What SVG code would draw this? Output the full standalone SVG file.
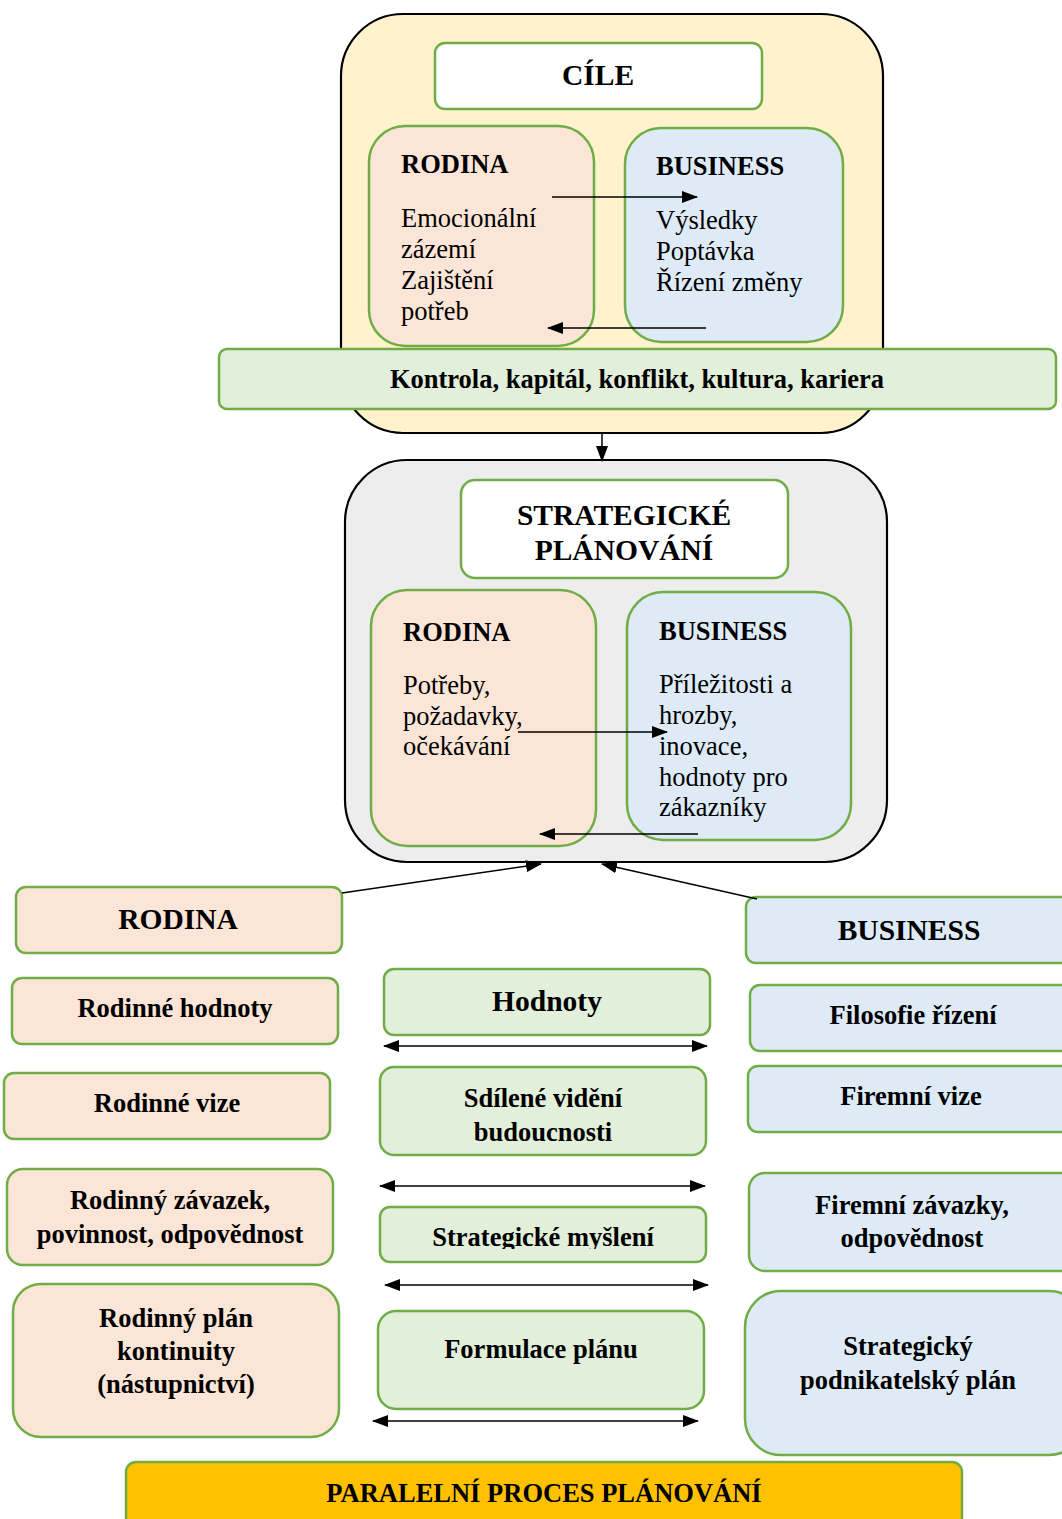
<svg xmlns="http://www.w3.org/2000/svg" width="1062" height="1519" viewBox="0 0 1062 1519">
<style>
.cont{stroke:#000;stroke-width:2.2}
.box{stroke:#70AD47;stroke-width:2.5}
.white{fill:#FFFFFF}
.peach{fill:#FBE5D6}
.blue{fill:#DEEBF7}
.green{fill:#E2EFDA}
.t{font-family:"Liberation Serif","Times New Roman",serif;fill:#000}
.b{font-weight:bold}
.mid{text-anchor:middle}
.body{font-size:26.5px}
.sm{font-size:26.5px}
.hd{font-size:26.5px}
.big{font-size:29.5px}
.ln{stroke:#000;stroke-width:1.5;fill:none}
</style>
<defs>
<marker id="ah" markerWidth="16" markerHeight="12" refX="15" refY="6" orient="auto-start-reverse" markerUnits="userSpaceOnUse">
<path d="M0,0 L16,6 L0,12 Z" fill="#000"/>
</marker>
<clipPath id="clipSM"><rect x="381" y="1208" width="324" height="41"/></clipPath>
</defs>

<g id="cile-container">
<rect class="cont" x="341" y="14" width="542" height="419" rx="62" fill="#FFF2CC"/>
</g>
<g id="cile">
<rect class="box white" x="435" y="43" width="327" height="66" rx="10"/>
<text class="t b mid big" x="598" y="85">CÍLE</text>
</g>
<g id="rodina-top">
<rect class="box peach" x="369" y="126" width="225" height="220" rx="36"/>
<text class="t b hd" x="401" y="173">RODINA</text>
<text class="t body" x="401" y="227">Emocionální</text>
<text class="t body" x="401" y="258">zázemí</text>
<text class="t body" x="401" y="289">Zajištění</text>
<text class="t body" x="401" y="320">potřeb</text>
</g>
<g id="business-top">
<rect class="box blue" x="625" y="128" width="218" height="214" rx="36"/>
<text class="t b hd" x="656" y="175">BUSINESS</text>
<text class="t body" x="656" y="229">Výsledky</text>
<text class="t body" x="656" y="260">Poptávka</text>
<text class="t body" x="656" y="291">Řízení změny</text>
</g>
<g id="kontrola">
<rect class="box green" x="219" y="349" width="837" height="60" rx="8"/>
<text class="t b mid sm" x="637" y="388">Kontrola, kapitál, konflikt, kultura, kariera</text>
</g>

<g id="strat-container">
<rect class="cont" x="345" y="460" width="542" height="402" rx="62" fill="#EDEDED"/>
</g>
<g id="strategicke">
<rect class="box white" x="461" y="480" width="327" height="98" rx="14"/>
<text class="t b mid big" x="624" y="525">STRATEGICKÉ</text>
<text class="t b mid big" x="624" y="560">PLÁNOVÁNÍ</text>
</g>
<g id="rodina-mid">
<rect class="box peach" x="371" y="590" width="225" height="256" rx="36"/>
<text class="t b hd" x="403" y="641">RODINA</text>
<text class="t body" x="403" y="694">Potřeby,</text>
<text class="t body" x="403" y="725">požadavky,</text>
<text class="t body" x="403" y="755">očekávání</text>
</g>
<g id="business-mid">
<rect class="box blue" x="627" y="592" width="224" height="248" rx="36"/>
<text class="t b hd" x="659" y="640">BUSINESS</text>
<text class="t body" x="659" y="693">Příležitosti a</text>
<text class="t body" x="659" y="724">hrozby,</text>
<text class="t body" x="659" y="755">inovace,</text>
<text class="t body" x="659" y="786">hodnoty pro</text>
<text class="t body" x="659" y="816">zákazníky</text>
</g>

<g id="rodina-head">
<rect class="box peach" x="16" y="887" width="326" height="66" rx="10"/>
<text class="t b mid big" x="178" y="929">RODINA</text>
</g>
<g id="rodinne-hodnoty">
<rect class="box peach" x="12" y="978" width="326" height="66" rx="10"/>
<text class="t b mid sm" x="175" y="1017">Rodinné hodnoty</text>
</g>
<g id="rodinne-vize">
<rect class="box peach" x="4" y="1073" width="326" height="66" rx="10"/>
<text class="t b mid sm" x="167" y="1112">Rodinné vize</text>
</g>
<g id="rodinny-zavazek">
<rect class="box peach" x="7" y="1169" width="326" height="96" rx="16"/>
<text class="t b mid sm" x="170" y="1209">Rodinný závazek,</text>
<text class="t b mid sm" x="170" y="1243">povinnost, odpovědnost</text>
</g>
<g id="rodinny-plan">
<rect class="box peach" x="13" y="1284" width="326" height="153" rx="28"/>
<text class="t b mid sm" x="176" y="1327">Rodinný plán</text>
<text class="t b mid sm" x="176" y="1360">kontinuity</text>
<text class="t b mid sm" x="176" y="1393">(nástupnictví)</text>
</g>

<g id="hodnoty">
<rect class="box green" x="384" y="969" width="326" height="66" rx="10"/>
<text class="t b mid big" x="547" y="1011">Hodnoty</text>
</g>
<g id="sdilene">
<rect class="box green" x="380" y="1067" width="326" height="88" rx="14"/>
<text class="t b mid sm" x="543" y="1107">Sdílené vidění</text>
<text class="t b mid sm" x="543" y="1141">budoucnosti</text>
</g>
<g id="strategicke-mysleni">
<rect class="box green" x="380" y="1207" width="326" height="55" rx="10"/>
<text class="t b mid sm" x="543" y="1246" clip-path="url(#clipSM)">Strategické myšlení</text>
</g>
<g id="formulace">
<rect class="box green" x="378" y="1311" width="326" height="98" rx="18"/>
<text class="t b mid sm" x="541" y="1358">Formulace plánu</text>
</g>

<g id="business-head">
<rect class="box blue" x="746" y="897" width="330" height="66" rx="10"/>
<text class="t b mid big" x="909" y="940">BUSINESS</text>
</g>
<g id="filosofie">
<rect class="box blue" x="750" y="985" width="330" height="66" rx="10"/>
<text class="t b mid sm" x="913" y="1024">Filosofie řízení</text>
</g>
<g id="firemni-vize">
<rect class="box blue" x="748" y="1066" width="330" height="66" rx="10"/>
<text class="t b mid sm" x="911" y="1105">Firemní vize</text>
</g>
<g id="firemni-zavazky">
<rect class="box blue" x="749" y="1173" width="330" height="98" rx="16"/>
<text class="t b mid sm" x="912" y="1214">Firemní závazky,</text>
<text class="t b mid sm" x="912" y="1247">odpovědnost</text>
</g>
<g id="strategicky-plan">
<rect class="box blue" x="745" y="1291" width="340" height="164" rx="36"/>
<text class="t b mid sm" x="908" y="1355">Strategický</text>
<text class="t b mid sm" x="908" y="1389">podnikatelský plán</text>
</g>

<g id="paralelni">
<rect class="box" x="126" y="1462" width="836" height="70" rx="10" fill="#FFC000"/>
<text class="t b mid sm" x="544" y="1502">PARALELNÍ PROCES PLÁNOVÁNÍ</text>
</g>

<g id="connectors">
<line class="ln" x1="552" y1="197" x2="697" y2="197" marker-end="url(#ah)"/>
<line class="ln" x1="706" y1="328" x2="548" y2="328" marker-end="url(#ah)"/>
<line class="ln" x1="602" y1="433" x2="602" y2="461" marker-end="url(#ah)"/>
<line class="ln" x1="518" y1="732" x2="667" y2="732" marker-end="url(#ah)"/>
<line class="ln" x1="698" y1="834" x2="540" y2="834" marker-end="url(#ah)"/>
<line class="ln" x1="342" y1="893" x2="541" y2="864" marker-end="url(#ah)"/>
<line class="ln" x1="757" y1="899" x2="602" y2="864" marker-end="url(#ah)"/>
<line class="ln" x1="384" y1="1046" x2="707" y2="1046" marker-start="url(#ah)" marker-end="url(#ah)"/>
<line class="ln" x1="380" y1="1186" x2="705" y2="1186" marker-start="url(#ah)" marker-end="url(#ah)"/>
<line class="ln" x1="385" y1="1285" x2="708" y2="1285" marker-start="url(#ah)" marker-end="url(#ah)"/>
<line class="ln" x1="373" y1="1421" x2="698" y2="1421" marker-start="url(#ah)" marker-end="url(#ah)"/>
</g>
</svg>
